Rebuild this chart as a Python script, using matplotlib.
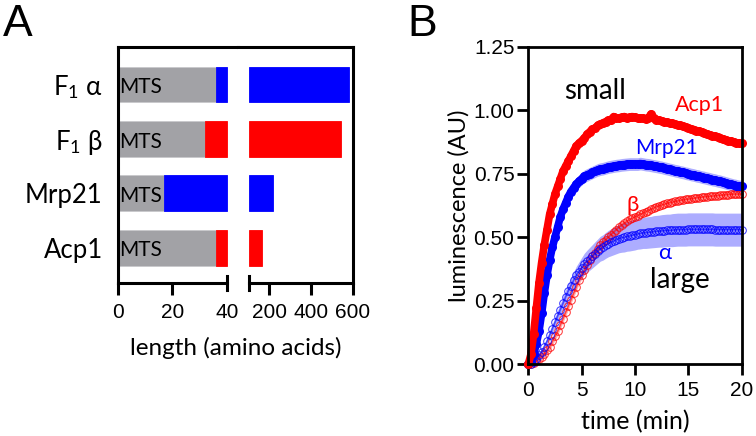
import numpy as np
import matplotlib
matplotlib.use("Agg")
import matplotlib.pyplot as plt
import matplotlib.transforms as mtransforms

plt.rcParams['mathtext.fontset'] = 'custom'
plt.rcParams['mathtext.rm'] = 'Lato'
plt.rcParams['mathtext.it'] = 'Lato:italic'

CAL = ['Lato', 'DejaVu Sans']
ARI = ['Liberation Sans', 'DejaVu Sans']

# ---- panel A data ----
proteins = ['F$_1$ α', 'F$_1$ β', 'Mrp21', 'Acp1']
mts_len = [36, 32, 17, 36]
total_len = [580, 545, 218, 165]
prot_col = ['#0000ff', '#ff0000', '#0000ff', '#ff0000']

# ---- panel B data (time in min, luminescence in AU) ----
t = np.arange(81) * 0.25
acp1 = [0.00, 0.04, 0.12, 0.22, 0.32, 0.40, 0.47, 0.53,
        0.59, 0.63, 0.67, 0.70, 0.73, 0.76, 0.78, 0.80,
        0.82, 0.84, 0.86, 0.87, 0.88, 0.89, 0.905, 0.915,
        0.925, 0.93, 0.94, 0.945, 0.95, 0.955, 0.96, 0.963,
        0.975, 0.97, 0.97, 0.972, 0.975, 0.97, 0.973, 0.975,
        0.972, 0.97, 0.97, 0.968, 0.965, 0.97, 0.985, 0.968,
        0.962, 0.96, 0.958, 0.955, 0.953, 0.95, 0.948, 0.945,
        0.942, 0.94, 0.937, 0.933, 0.93, 0.927, 0.924, 0.92,
        0.918, 0.915, 0.91, 0.907, 0.903, 0.90, 0.897, 0.893,
        0.89, 0.887, 0.884, 0.88, 0.878, 0.875, 0.872, 0.87,
        0.87]
mrp21 = [0.00, 0.01, 0.04, 0.08, 0.13, 0.20, 0.28, 0.35,
         0.41, 0.46, 0.50, 0.54, 0.58, 0.61, 0.635, 0.66,
         0.68, 0.695, 0.71, 0.72, 0.73, 0.74, 0.745, 0.75,
         0.755, 0.76, 0.765, 0.768, 0.77, 0.773, 0.776, 0.778,
         0.78, 0.782, 0.783, 0.785, 0.786, 0.787, 0.788, 0.788,
         0.788, 0.788, 0.79, 0.788, 0.786, 0.785, 0.783, 0.781,
         0.779, 0.777, 0.775, 0.772, 0.77, 0.767, 0.765, 0.762,
         0.76, 0.757, 0.755, 0.752, 0.75, 0.747, 0.745, 0.742,
         0.74, 0.737, 0.735, 0.732, 0.73, 0.727, 0.725, 0.722,
         0.72, 0.717, 0.714, 0.711, 0.708, 0.705, 0.703, 0.70,
         0.70]
beta = [0.00, 0.002, 0.006, 0.012, 0.02, 0.03, 0.04, 0.055,
        0.07, 0.09, 0.11, 0.13, 0.155, 0.18, 0.205, 0.23,
        0.255, 0.28, 0.305, 0.33, 0.35, 0.37, 0.39, 0.41,
        0.425, 0.44, 0.455, 0.47, 0.48, 0.49, 0.50, 0.51,
        0.52, 0.53, 0.54, 0.548, 0.555, 0.563, 0.57, 0.575,
        0.58, 0.585, 0.59, 0.595, 0.60, 0.605, 0.61, 0.615,
        0.62, 0.623, 0.627, 0.63, 0.633, 0.636, 0.638, 0.641,
        0.643, 0.645, 0.647, 0.649, 0.65, 0.652, 0.653, 0.655,
        0.656, 0.658, 0.659, 0.66, 0.661, 0.662, 0.663, 0.664,
        0.665, 0.666, 0.667, 0.668, 0.669, 0.67, 0.67, 0.67,
        0.67]
alpha = [0.00, 0.003, 0.01, 0.02, 0.035, 0.05, 0.07, 0.09,
         0.115, 0.14, 0.165, 0.19, 0.215, 0.24, 0.265, 0.29,
         0.31, 0.33, 0.35, 0.365, 0.38, 0.395, 0.405, 0.415,
         0.425, 0.435, 0.445, 0.455, 0.46, 0.468, 0.475, 0.48,
         0.485, 0.49, 0.495, 0.498, 0.50, 0.503, 0.505, 0.508,
         0.51, 0.513, 0.515, 0.517, 0.518, 0.519, 0.52, 0.522,
         0.523, 0.524, 0.525, 0.526, 0.527, 0.527, 0.528, 0.529,
         0.53, 0.53, 0.53, 0.53, 0.531, 0.531, 0.531, 0.531,
         0.531, 0.531, 0.531, 0.531, 0.531, 0.531, 0.53, 0.53,
         0.53, 0.53, 0.53, 0.53, 0.53, 0.53, 0.53, 0.53,
         0.53]
alpha_err = [0.0, 0.002, 0.004, 0.006, 0.008, 0.01, 0.012, 0.014,
             0.016, 0.018, 0.02, 0.022, 0.024, 0.026, 0.028, 0.03,
             0.032, 0.034, 0.036, 0.038, 0.04, 0.042, 0.044, 0.045,
             0.046, 0.047, 0.048, 0.049, 0.05, 0.051, 0.052, 0.053,
             0.054, 0.055, 0.056, 0.057, 0.058, 0.058, 0.059, 0.06,
             0.06, 0.06, 0.061, 0.061, 0.062, 0.062, 0.062, 0.063,
             0.063, 0.063, 0.064, 0.064, 0.064, 0.064, 0.065, 0.065,
             0.065, 0.065, 0.065, 0.065, 0.065, 0.065, 0.065, 0.065,
             0.065, 0.065, 0.065, 0.065, 0.065, 0.065, 0.065, 0.065,
             0.065, 0.065, 0.065, 0.065, 0.065, 0.065, 0.065, 0.065,
             0.065]
acp1_err = 0.012
mrp21_err = 0.025
beta_err = 0.015

fig = plt.figure(figsize=(7.56, 4.36), dpi=100)
W, H = 756, 436


def fbox(x0, x1, ytop, ybot):
    return [x0 / W, 1 - ybot / H, (x1 - x0) / W, (ybot - ytop) / H]


# ================= panel A =================
axL = fig.add_axes(fbox(118, 238, 47, 283))
axR = fig.add_axes(fbox(238, 353, 47, 283))
ypos = np.arange(len(proteins))
bh = 0.66
gray = '#a2a2a6'

for i in range(len(proteins)):
    axL.barh(ypos[i], mts_len[i], height=bh, color=gray, edgecolor='#c8c8cc', linewidth=0.6)
    axL.barh(ypos[i], 40 - mts_len[i], left=mts_len[i], height=bh, color=prot_col[i],
             edgecolor=prot_col[i], linewidth=0.6)
    axR.barh(ypos[i], total_len[i] - 105, left=105, height=bh, color=prot_col[i],
             edgecolor=prot_col[i], linewidth=0.6)
    axL.text(0.5, ypos[i] + 0.05, 'MTS', family=CAL, fontsize=15, va='center', ha='left')

for ax in (axL, axR):
    ax.set_ylim(3.65, -0.69)
    ax.spines['top'].set_linewidth(2.2)
    ax.spines['bottom'].set_linewidth(2.2)
    ax.tick_params(axis='x', direction='out', length=8.5, width=2.2, labelsize=15, pad=6)

axL.set_xlim(0, 44.04)
axL.spines['right'].set_visible(False)
axL.spines['left'].set_linewidth(2.2)
axL.spines['bottom'].set_bounds(0, 40)
axL.set_xticks([0, 20, 40])
axL.xaxis.get_major_ticks()[2].tick1line.set_visible(False)
axL.set_yticks(ypos)
axL.set_yticklabels(proteins, family=CAL, fontsize=18.5)
axL.tick_params(axis='y', length=0, pad=11)
for lab in axL.get_xticklabels():
    lab.set_family(ARI)
    lab.set_fontsize(15)

axR.set_xlim(52, 600)
axR.spines['left'].set_visible(False)
axR.spines['right'].set_linewidth(2.2)
axR.spines['bottom'].set_bounds(105, 600)
axR.set_xticks([200, 400, 600])
axR.set_yticks([])
for lab in axR.get_xticklabels():
    lab.set_family(ARI)
    lab.set_fontsize(15)

# break marks at the ends of the split axis
trL = mtransforms.blended_transform_factory(axL.transData, axL.transAxes)
trR = mtransforms.blended_transform_factory(axR.transData, axR.transAxes)
axL.plot([40, 40], [-0.03, 0.03], color='k', lw=2.2, transform=trL, clip_on=False)
axR.plot([105, 105], [-0.03, 0.03], color='k', lw=2.2, transform=trR, clip_on=False)

fig.text(236 / W, 1 - 348 / H, 'length (amino acids)', family=CAL, fontsize=17.5,
         ha='center', va='center')
fig.text(3 / W, 1 - 24 / H, 'A', family=ARI, fontsize=32, ha='left', va='center')

# ================= panel B =================
axB = fig.add_axes(fbox(528.3, 741.7, 46.7, 364.3))
series = [
    (beta, beta_err, '#ff0000', 'none'),
    (alpha, alpha_err, '#0000ff', 'none'),
    (mrp21, mrp21_err, '#0000ff', 'full'),
    (acp1, acp1_err, '#ff0000', 'full'),
]
for y, err, col, fill in series:
    y = np.asarray(y)
    e = np.asarray(err) if np.ndim(err) else err
    axB.fill_between(t, y - e, y + e, color=col, alpha=0.32, lw=0)
for y, err, col, fill in series:
    if fill == 'full':
        axB.plot(t, y, '-', color=col, lw=5.5, solid_capstyle='round', clip_on=False)
        axB.plot(t, y, 'o', color=col, ms=6.5, mew=0, clip_on=False)
    else:
        axB.plot(t, y, '-', color=col, lw=1.2, alpha=0.6, clip_on=False)
        axB.plot(t, y, 'o', mfc='none', mec=col, ms=5.5, mew=0.7, alpha=0.8, clip_on=False)

axB.set_xlim(0, 20)
axB.set_ylim(0, 1.25)
axB.set_xticks([0, 5, 10, 15, 20])
axB.set_yticks([0, 0.25, 0.5, 0.75, 1.0, 1.25])
axB.set_yticklabels(['0.00', '0.25', '0.50', '0.75', '1.00', '1.25'])
for s in axB.spines.values():
    s.set_linewidth(2)
axB.tick_params(direction='out', length=8, width=2, labelsize=15)
axB.tick_params(axis='y', pad=2)
axB.tick_params(axis='x', pad=4)
for lab in axB.get_xticklabels() + axB.get_yticklabels():
    lab.set_family(ARI)
axB.set_xlabel('time (min)', family=CAL, fontsize=18, labelpad=7)
axB.set_ylabel('luminescence (AU)', family=CAL, fontsize=17, labelpad=3)

axB.text(3.4, 1.076, 'small', family=CAL, fontsize=20, va='center', ha='left')
axB.text(13.7, 1.02, 'Acp1', family=CAL, fontsize=15.5, color='#ff0000', va='center', ha='left')
axB.text(10.0, 0.85, 'Mrp21', family=CAL, fontsize=15, color='#0000ff', va='center', ha='left')
axB.text(9.8, 0.627, 'β', family=CAL, fontsize=16, color='#ff0000', va='center', ha='center')
axB.text(12.8, 0.44, 'α', family=CAL, fontsize=16, color='#0000ff', va='center', ha='center')
axB.text(11.4, 0.33, 'large', family=CAL, fontsize=20, va='center', ha='left')

fig.text(407 / W, 1 - 24 / H, 'B', family=ARI, fontsize=32, ha='left', va='center')

fig.savefig('out.png', dpi=100)
